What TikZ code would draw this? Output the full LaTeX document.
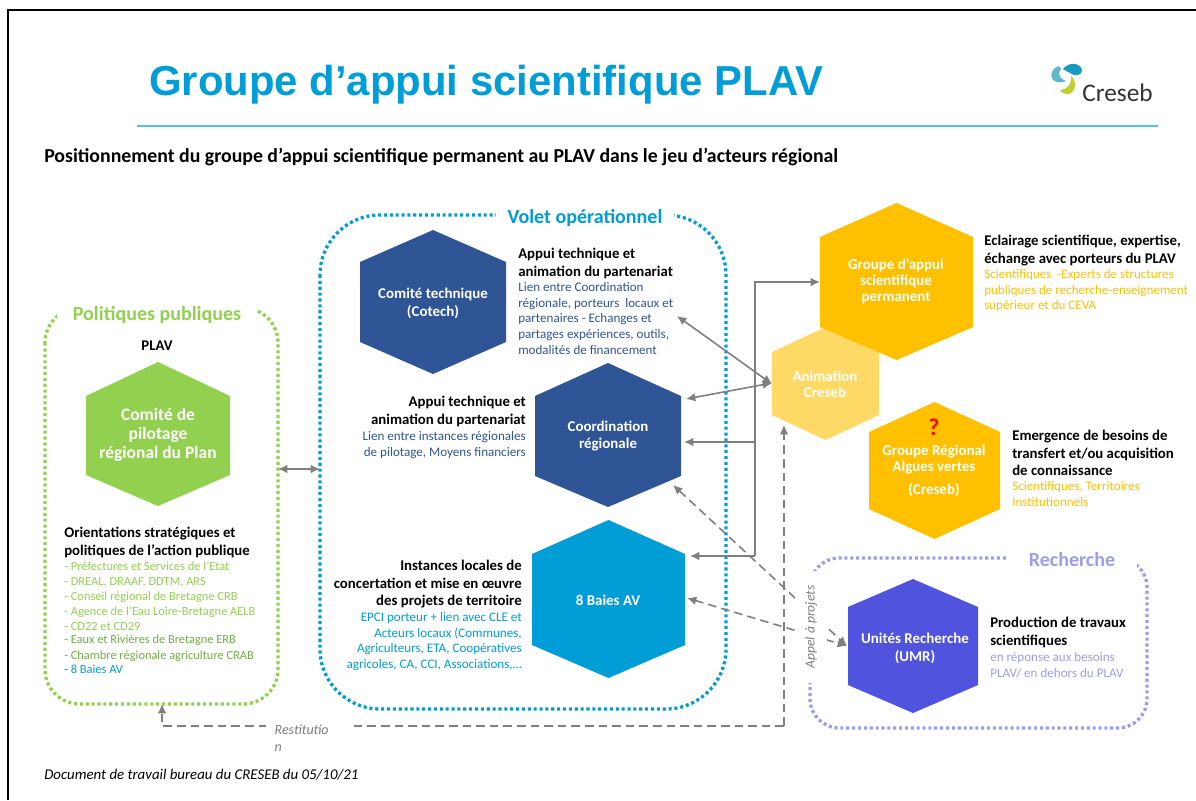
\documentclass[tikz,border=0pt]{standalone}
\usepackage{fontspec}
\setmainfont{Carlito}
\newfontfamily\arialf{Liberation Sans}
\usetikzlibrary{arrows.meta,calc}
\definecolor{cblue}{HTML}{009DD6}
\definecolor{crule}{HTML}{5BBEE3}
\definecolor{cgreen}{HTML}{92D050}
\definecolor{cgreenb}{HTML}{70AD47}
\definecolor{cnavy}{HTML}{2F5597}
\definecolor{cgold}{HTML}{FFC000}
\definecolor{clgold}{HTML}{FFD966}
\definecolor{cviolet}{HTML}{5053DE}
\definecolor{clviolet}{HTML}{9C9CEC}
\definecolor{cgray}{HTML}{7F7F7F}
\definecolor{clogoa}{HTML}{1B9BC4}
\definecolor{clogob}{HTML}{62B9C6}
\definecolor{clogoc}{HTML}{BCCF2C}
\tikzset{
  hexlabel/.style={text=white,align=center,font=\bfseries\fontsize{11.2}{13.4}\selectfont,inner sep=0pt},
  head/.style={inner sep=0pt,font=\bfseries\fontsize{11.1}{13.1}\selectfont},
  bodytxt/.style={inner sep=0pt,font=\fontsize{9.8}{11.8}\selectfont},
  listtxt/.style={inner sep=0pt,font=\fontsize{9.3}{11.3}\selectfont},
  dotbox/.style={line width=2.5pt,dash pattern=on 2.3pt off 2.1pt},
  conn/.style={draw=cgray,line width=1.2pt,{Latex[length=7pt,width=6.5pt]}-{Latex[length=7pt,width=6.5pt]}},
  conna/.style={draw=cgray,line width=1.2pt,-{Latex[length=7pt,width=6.5pt]}},
  connd/.style={draw=cgray,line width=1.2pt,dash pattern=on 6.4pt off 3.8pt,{Latex[length=7pt,width=6.5pt]}-{Latex[length=7pt,width=6.5pt]}},
  connda/.style={draw=cgray,line width=1.2pt,dash pattern=on 6.4pt off 3.8pt,-{Latex[length=7pt,width=6.5pt]}},
  boxtitle/.style={fill=white,inner sep=0pt,font=\bfseries\fontsize{15}{17}\selectfont},
}
% #1 colour, #2 left, #3 right, #4 top, #5 shoulder, #6 lower shoulder, #7 bottom
\newcommand{\hexa}[7]{\fill[#1] ({(#2+#3)/2},#4) -- (#3,#5) -- (#3,#6) -- ({(#2+#3)/2},#7) -- (#2,#6) -- (#2,#5) -- cycle;}
\begin{document}
\begin{tikzpicture}[x=0.75pt,y=-0.75pt]
\useasboundingbox (0,0) rectangle (1196,800);
% frame
\draw[black,line width=1.6pt] (8,800) -- (8,10) -- (1196,10);
% title
\node[anchor=west,inner sep=0pt,text=cblue,font=\arialf\bfseries\fontsize{31.4}{36}\selectfont] (title) at (149,85) {Groupe d’appui scientifique PLAV};
\draw[crule,line width=1.1pt] (137,126) -- (1158,126);
\node[anchor=west,inner sep=0pt,font=\bfseries\fontsize{14.85}{17}\selectfont] (subtitle) at (44,157) {Positionnement du groupe d’appui scientifique permanent au PLAV dans le jeu d’acteurs régional};
% logo
\fill[clogoa] (1063,69) .. controls (1068,62) and (1080,62) .. (1082,70) .. controls (1081,77) and (1074,76) .. (1070,73) .. controls (1067,71) and (1065,71) .. cycle;
\fill[clogob] (1059,66) .. controls (1052,68) and (1049,75) .. (1053,80) .. controls (1056,83) and (1063,83) .. (1066,81) .. controls (1060,79) and (1057,74) .. (1061,69) -- cycle;
\fill[clogoc] (1071,76) .. controls (1077,80) and (1076,92) .. (1069,94) .. controls (1065,95) and (1061,92) .. (1060,90) .. controls (1066,90) and (1072,85) .. cycle;
\node[anchor=west,inner sep=0pt,text=black!80,font=\fontsize{19}{20}\selectfont] (logotext) at (1082,93) {Creseb};
% dotted boxes
\draw[cgreen,dotbox,rounded corners=26pt] (45,308) rectangle (278,704);
\draw[cblue,dotbox,rounded corners=45pt] (320,215) rectangle (726,709);
\draw[clviolet,dotbox,rounded corners=22pt] (810,558) rectangle (1147,728);
\node[boxtitle,text=cgreen,minimum width=150pt,minimum height=20pt] (tpol) at (157,315) {Politiques publiques};
\node[boxtitle,text=cblue,minimum width=133pt,minimum height=18pt] (tvol) at (585,218) {Volet opérationnel};
\node[boxtitle,text=clviolet,minimum width=98pt,minimum height=20pt] (trec) at (1072,560) {Recherche};
% hexagons
\hexa{cgreen}{86}{230}{362}{396}{475}{506}
\node[hexlabel,font=\bfseries\fontsize{13.1}{14.3}\selectfont] (copil) at (158,435) {Comité de\\pilotage\\régional du Plan};
\hexa{cnavy}{360}{506}{230}{262}{342}{374}
\node[hexlabel] (cotech) at (433,303) {Comité technique\\(Cotech)};
\hexa{cnavy}{535}{681}{363}{396}{476}{507}
\node[hexlabel] (coord) at (608,436) {Coordination\\régionale};
\hexa{cblue}{532}{685}{520}{554}{645}{678}
\node[hexlabel] (baies) at (608,600) {8 Baies AV};
\hexa{clgold}{772}{879}{327}{352}{415}{440}
\node[hexlabel,font=\bfseries\fontsize{11.2}{12}\selectfont] (anim) at (825,384) {Animation\\Creseb};
\hexa{cgold}{820}{973}{203}{237}{327}{360}
\node[hexlabel,font=\bfseries\fontsize{11.2}{12}\selectfont] (gas) at (896,281) {Groupe d’appui\\scientifique\\permanent};
\hexa{cgold}{869}{1000}{402}{432}{509}{539}
\node[text=red,inner sep=0pt,font=\bfseries\fontsize{18}{20}\selectfont] (qmark) at (934,427) {?};
\node[hexlabel,font=\bfseries\fontsize{11.2}{12}\selectfont] (grav) at (934,471) {Groupe Régional\\Algues vertes\\[5pt](Creseb)};
\hexa{cviolet}{848}{978}{579}{607}{685}{713}
\node[hexlabel] (umr) at (915,648) {Unités Recherche\\(UMR)};
% connector end points
\coordinate (a1) at (278,469); \coordinate (a2) at (320,469);
\coordinate (b1) at (677,316); \coordinate (b2) at (772,384);
\coordinate (c1) at (686,399); \coordinate (c2) at (772,383);
\coordinate (j1) at (755,282); \coordinate (j2) at (755,442); \coordinate (j3) at (755,556);
\coordinate (g1) at (820,282); \coordinate (g2) at (684,442); \coordinate (g3) at (690,556);
\coordinate (r0) at (162,704); \coordinate (r1) at (162,726); \coordinate (r2) at (784,726); \coordinate (r3) at (784,425);
\coordinate (d1) at (673,485); \coordinate (d2) at (847,646); \coordinate (e1) at (687,598);
% connectors
\draw[conn] (a1) -- (a2);
\draw[conn] (b1) -- (b2);
\draw[conn] (c1) -- (c2);
\draw[conna] (j3) -- (j1) -- (g1);
\draw[conna] (j2) -- (g2);
\draw[conna] (j3) -- (g3);
\draw[connda] (r2) -- (r1) -- (r0);
\draw[connda] (r2) -- (r3);
\draw[connd] (d1) -- (d2);
\draw[connd] (e1) -- (d2);
% connector labels (white, they break the lines behind them)
\node[fill=white,inner sep=0pt,text=cgray,minimum width=63pt,minimum height=30pt,font=\itshape\fontsize{10.5}{13}\selectfont,align=left,text width=50pt] (rest) at (308,738) {Restitutio\\n};
\node[fill=white,rotate=90,inner sep=0pt,text=cgray,minimum width=84pt,minimum height=24pt,font=\itshape\fontsize{10.2}{11}\selectfont] (appel) at (811,627) {Appel à projets};
% texts
\node[head,anchor=north,align=center] (plav) at (157,341) {PLAV};
\node[head,anchor=north west,align=left] (h1) at (64,527) {Orientations stratégiques et\\politiques de l’action publique};
\node[listtxt,anchor=north west,align=left,text=cgreen] (l1) at (64,561) {- Préfectures et Services de l’Etat\\- DREAL, DRAAF, DDTM, ARS\\- Conseil régional de Bretagne CRB\\- Agence de l’Eau Loire-Bretagne AELB\\- CD22 et CD29};
\node[listtxt,anchor=north west,align=left,text=cgreenb] (l2) at (64,635) {- Eaux et Rivières de Bretagne ERB};
\node[listtxt,anchor=north west,align=left,text=cgreenb] (l3) at (64,651) {- Chambre régionale agriculture CRAB};
\node[listtxt,anchor=north west,align=left,text=cblue] (l4) at (64,665) {- 8 Baies AV};
\node[head,anchor=north west,align=left] (h2) at (518,248) {Appui technique et\\animation du partenariat};
\node[bodytxt,anchor=north west,align=left,text=cnavy] (t2) at (518,282) {Lien entre Coordination\\régionale, porteurs\ \ locaux et\\partenaires - Echanges et\\partages expériences, outils,\\modalités de financement};
\node[head,anchor=north east,align=right] (h3) at (526,396) {Appui technique et\\animation du partenariat};
\node[bodytxt,anchor=north east,align=right,text=cnavy] (t3) at (526,431) {Lien entre instances régionales\\de pilotage, Moyens financiers};
\node[head,anchor=north east,align=right] (h4) at (522,560) {Instances locales de\\concertation et mise en œuvre\\des projets de territoire};
\node[bodytxt,anchor=north east,align=right,text=cblue] (t4) at (522,612) {EPCI porteur + lien avec CLE et\\Acteurs locaux (Communes,\\Agriculteurs, ETA, Coopératives\\agricoles, CA, CCI, Associations,…};
\node[head,anchor=north west,align=left] (h5) at (984,235) {Eclairage scientifique, expertise,\\échange avec porteurs du PLAV};
\node[bodytxt,anchor=north west,align=left,text=cgold] (t5) at (984,269) {Scientifiques\ \ -Experts de structures\\publiques de recherche-enseignement\\supérieur et du CEVA};
\node[head,anchor=north west,align=left] (h6) at (1012,430) {Emergence de besoins de\\transfert et/ou acquisition\\de connaissance};
\node[bodytxt,anchor=north west,align=left,text=cgold,font=\fontsize{9.8}{12.4}\selectfont] (t6) at (1012,481) {Scientifiques, Territoires\\Institutionnels};
\node[head,anchor=north west,align=left] (h7) at (990,617) {Production de travaux\\scientifiques};
\node[bodytxt,anchor=north west,align=left,text=clviolet] (t7) at (990,652) {en réponse aux besoins\\PLAV/ en dehors du PLAV};
\node[anchor=west,inner sep=0pt,font=\itshape\fontsize{11.15}{13}\selectfont] (foot) at (44,775) {Document de travail bureau du CRESEB du 05/10/21};
\end{tikzpicture}
\end{document}
